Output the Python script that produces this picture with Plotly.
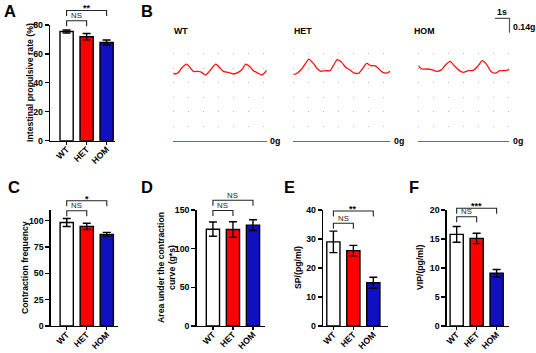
import plotly.graph_objects as go

# ---------------- data ----------------
groups = ["WT", "HET", "HOM"]
bar_colors = ["#ffffff", "#ff0000", "#1010c0"]

prop_rate = [75.5, 71.9, 67.9]          # A
prop_rate_err = [1.0, 2.2, 1.7]
contr_freq = [98.2, 94.5, 86.9]         # C
contr_freq_err = [3.8, 3.0, 1.9]
auc = [125.2, 124.8, 130.4]             # D
auc_err = [9.2, 10.0, 7.0]
sp = [29.0, 26.0, 14.9]                 # E
sp_err = [3.7, 1.8, 1.9]
vip = [15.8, 15.1, 9.1]                 # F
vip_err = [1.35, 0.9, 0.65]

sig_A = [("NS", 0, 1), ("**", 0, 2)]
sig_C = [("NS", 0, 1), ("*", 0, 2)]
sig_D = [("NS", 0, 1), ("NS", 0, 2)]
sig_E = [("NS", 0, 1), ("**", 0, 2)]
sig_F = [("NS", 0, 1), ("***", 0, 2)]

# B: contraction traces (time s, force g)
wt_t = [0, 0.12, 0.35, 0.58, 0.92, 1.15, 1.38, 1.72, 1.96, 2.23, 2.53, 2.92, 3.15,
        3.45, 3.79, 4.14, 4.48, 4.76, 4.99, 5.29, 5.52, 5.86, 6.10, 6.32, 6.44]
wt_g = [0.653, 0.644, 0.659, 0.702, 0.740, 0.708, 0.669, 0.669, 0.659, 0.634, 0.676,
        0.740, 0.714, 0.669, 0.659, 0.644, 0.659, 0.692, 0.740, 0.714, 0.676, 0.650,
        0.634, 0.659, 0.682]
het_t = [0, 0.23, 0.58, 0.81, 1.08, 1.38, 1.68, 1.91, 2.19, 2.53, 2.76, 3.03, 3.34,
         3.61, 3.91, 4.21, 4.53, 4.76, 5.06, 5.36, 5.63, 5.91, 6.17, 6.44, 6.67]
het_g = [0.637, 0.649, 0.692, 0.740, 0.788, 0.746, 0.692, 0.669, 0.676, 0.676, 0.724,
         0.782, 0.756, 0.708, 0.682, 0.653, 0.653, 0.692, 0.746, 0.724, 0.724, 0.692,
         0.659, 0.653, 0.669]
hom_t = [0, 0.23, 0.58, 0.92, 1.27, 1.61, 1.89, 2.19, 2.48, 2.81, 3.10, 3.45, 3.79,
         4.10, 4.41, 4.72, 5.01, 5.34, 5.63, 5.98, 6.28]
hom_g = [0.724, 0.692, 0.692, 0.686, 0.669, 0.686, 0.734, 0.766, 0.724, 0.679, 0.659,
         0.676, 0.679, 0.718, 0.772, 0.734, 0.669, 0.653, 0.676, 0.676, 0.686]
scale_t, scale_g = 1.0, 0.14

# ---------------- layout helpers ----------------
W, H = 536, 353
FONT = "Liberation Sans"
def fx(px): return px / W
def fy(py): return 1 - py / H

fig = go.Figure()
layout = dict(template="none", width=W, height=H, margin=dict(l=0, r=0, t=0, b=0, autoexpand=False),
              paper_bgcolor="white", plot_bgcolor="white", showlegend=False,
              font=dict(family=FONT, color="black"))
shapes, annotations = [], []

def txt(x, y, s, size=8.5, bold=True, xanchor="center", yanchor="middle", angle=0, color="black"):
    annotations.append(dict(x=fx(x), y=fy(y), xref="paper", yref="paper", text=s,
                            showarrow=False, xanchor=xanchor, yanchor=yanchor, textangle=angle,
                            borderpad=0,
                            font=dict(family=FONT, size=size, color=color,
                                      weight="bold" if bold else "normal")))

def bar_panel(n, vals, errs, xdom, ytop, ybot, xr, ymax, dtick, sig, brk_px):
    sx = "" if n == 1 else str(n)
    fig.add_trace(go.Bar(x=[0, 1, 2], y=vals, width=0.66,
                         marker=dict(color=bar_colors, line=dict(color="black", width=1.4)),
                         error_y=dict(type="data", array=errs, color="black", thickness=1.4, width=4),
                         xaxis="x" + sx, yaxis="y" + sx))
    layout["xaxis" + sx] = dict(domain=[fx(xdom[0]), fx(xdom[1])], range=xr, anchor="y" + sx,
                                automargin=False,
                                tickvals=[0, 1, 2], ticktext=groups, tickangle=-45,
                                ticklabelstandoff=-4,
                                ticks="outside", ticklen=3, tickwidth=1.2, tickcolor="black",
                                showline=True, linecolor="black", linewidth=1.3,
                                showgrid=False, zeroline=False,
                                tickfont=dict(family=FONT, size=8.7, weight="bold"))
    layout["yaxis" + sx] = dict(domain=[fy(ybot), fy(ytop)], range=[0, ymax], anchor="x" + sx,
                                automargin=False,
                                dtick=dtick, tick0=0, ticks="outside", ticklen=4, tickwidth=1.2,
                                tickcolor="black", showline=True, linecolor="black", linewidth=1.3,
                                showgrid=False, zeroline=False,
                                tickfont=dict(family=FONT, size=8.8, weight="bold"))
    def px_x(v): return xdom[0] + (v - xr[0]) / (xr[1] - xr[0]) * (xdom[1] - xdom[0])
    for (label, i, j), yline in zip(sig, brk_px):
        xa, xb = fx(px_x(i)), fx(px_x(j))
        yt, yl = fy(yline), fy(yline + 5.5)
        shapes.append(dict(type="path", xref="paper", yref="paper",
                           path=f"M {xa},{yl} L {xa},{yt} L {xb},{yt} L {xb},{yl}",
                           line=dict(color="#222", width=1.1)))
        if label == "NS":
            txt((px_x(i) + px_x(j)) / 2, yline - 5.2, label, size=7.8, bold=False, color="#222")
        else:
            txt((px_x(i) + px_x(j)) / 2, yline - 2.2, label, size=9, bold=True)

# A, C, D, E, F
bar_panel(1, prop_rate, prop_rate_err, (50, 115), 25, 140.7, [-0.83, 2.42], 80, 20, sig_A, [20.7, 10.5])
bar_panel(5, contr_freq, contr_freq_err, (50.7, 118), 210, 326, [-0.8, 2.56], 110, 25, sig_C, [210.7, 200.7])
bar_panel(6, auc, auc_err, (196.5, 265), 210, 326, [-0.82, 2.6], 150, 50, sig_D, [210.5, 200.3])
bar_panel(7, sp, sp_err, (323, 387.5), 210, 326, [-0.52, 2.71], 40, 10, sig_E, [223.3, 211])
bar_panel(8, vip, vip_err, (446.7, 509), 210, 326, [-0.5, 2.62], 20, 5, sig_F, [216.7, 208.3])

# B traces
PX_S, PX_G = 14.5, 103.6
Y0, YTOP = 140.7, 45
gmax = (Y0 - YTOP) / PX_G
base_col = "#c04848"
for n, (t, g, x0, lab, labx) in zip([2, 3, 4], [(wt_t, wt_g, 173.3, "WT", 173.3),
                                               (het_t, het_g, 293.3, "HET", 293.3),
                                               (hom_t, hom_g, 418.3, "HOM", 413.3)]):
    T = t[-1]
    fig.add_trace(go.Scatter(x=t, y=g, mode="lines", line=dict(color="#ff1010", width=1.3, shape="spline", smoothing=0.6),
                             xaxis=f"x{n}", yaxis=f"y{n}", hoverinfo="skip"))
    layout[f"xaxis{n}"] = dict(domain=[fx(x0), fx(x0 + T * PX_S)], range=[0, T], anchor=f"y{n}",
                               automargin=False,
                               showline=True, linecolor=base_col, linewidth=1.3, showticklabels=False,
                               ticks="", showgrid=False, zeroline=False)
    layout[f"yaxis{n}"] = dict(domain=[fy(Y0), fy(YTOP)], range=[0, gmax], anchor=f"x{n}",
                               automargin=False,
                               showline=False, showticklabels=False, ticks="", zeroline=False,
                               showgrid=True, dtick=scale_g, tick0=0, gridcolor="#b8b8b8",
                               gridwidth=1, griddash="1px,14px")
    txt(labx, 30.7, lab, size=8.8, xanchor="left")
    txt(x0 + T * PX_S + 2.5, Y0, "0g", size=8.8, xanchor="left")

# scale bar
sb_x, sb_y = 495, 18.3
sb_w, sb_h = scale_t * PX_S, scale_g * PX_G
shapes.append(dict(type="path", xref="paper", yref="paper",
                   path=f"M {fx(sb_x)},{fy(sb_y)} L {fx(sb_x + sb_w)},{fy(sb_y)} L {fx(sb_x + sb_w)},{fy(sb_y + sb_h)}",
                   line=dict(color="#555", width=1.2)))
txt(sb_x + sb_w / 2, sb_y - 6, "1s", size=8.8)
txt(sb_x + sb_w + 2, sb_y + sb_h / 2 + 1, "0.14g", size=8.8, xanchor="left")

# axis titles
txt(30, 82.9, "Intestinal propulsive rate (%)", size=8.7, angle=-90)
txt(25, 268, "Contraction frequency", size=8.7, angle=-90)
txt(166, 268, "Area under the contraction<br>curve (g*s)", size=8.7, angle=-90)
txt(298, 268, "SP/(pg/ml)", size=8.7, angle=-90)
txt(420, 268, "VIP/(pg/ml)", size=8.7, angle=-90)

# panel letters
for L, x, y in [("A", 3.3, 11), ("B", 140, 11), ("C", 6.7, 187), ("D", 140, 187), ("E", 283.3, 187), ("F", 408, 187)]:
    txt(x, y, L, size=16.5, xanchor="left")

layout["shapes"] = shapes
layout["annotations"] = annotations
fig.update_layout(**layout)
fig.write_html("out.html", config={"displayModeBar": False, "staticPlot": True},
               post_script="document.body.style.margin='0';document.body.style.padding='0';"
                           "document.documentElement.style.margin='0';document.body.style.overflow='hidden';")
